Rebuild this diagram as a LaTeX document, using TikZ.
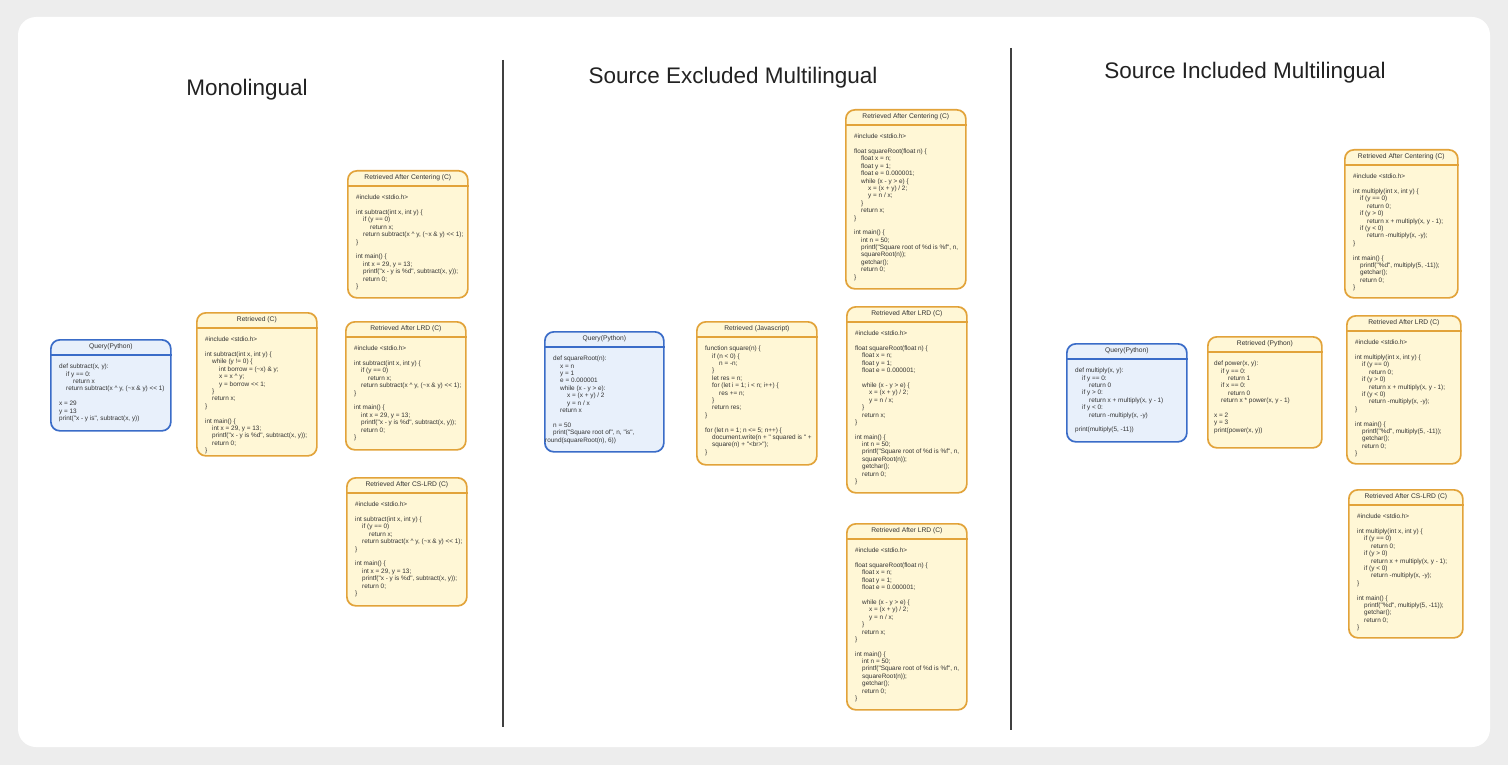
\documentclass[tikz,border=0pt]{standalone}
\usepackage{fontspec}
\setmainfont{Liberation Sans}
\newfontfamily\codefont{Liberation Sans}[Ligatures=TeXOff]
\usepackage{tikz}
\usetikzlibrary{positioning,calc}

\definecolor{bggray}{HTML}{EDEDED}
\definecolor{qdraw}{HTML}{3A6CC8}
\definecolor{qfill}{HTML}{E8F0FB}
\definecolor{rdraw}{HTML}{E2A33A}
\definecolor{rfill}{HTML}{FFF7D6}
\definecolor{codetext}{HTML}{333333}
\definecolor{titletext}{HTML}{222222}

\newcommand{\codeind}{\hspace*{7pt}}

% C code shared by several boxes
\newcommand{\subC}{%
\#include <stdio.h>\\
~\\
int subtract(int x, int y) \{\\
\codeind if (y == 0)\\
\codeind\codeind return x;\\
\codeind return subtract(x \textasciicircum\ y, (\textasciitilde x \& y) << 1);\\
\}\\
~\\
int main() \{\\
\codeind int x = 29, y = 13;\\
\codeind printf("x - y is \%d", subtract(x, y));\\
\codeind return 0;\\
\}}

\newcommand{\sqrtC}{%
\#include <stdio.h>\\
~\\
float squareRoot(float n) \{\\
\codeind float x = n;\\
\codeind float y = 1;\\
\codeind float e = 0.000001;\\
\codeind while (x - y > e) \{\\
\codeind\codeind x = (x + y) / 2;\\
\codeind\codeind y = n / x;\\
\codeind \}\\
\codeind return x;\\
\}\\
~\\
int main() \{\\
\codeind int n = 50;\\
\codeind printf("Square root of \%d is \%f", n,\\
\codeind squareRoot(n));\\
\codeind getchar();\\
\codeind return 0;\\
\}}

\newcommand{\sqrtLRD}{%
\#include <stdio.h>\\
~\\
float squareRoot(float n) \{\\
\codeind float x = n;\\
\codeind float y = 1;\\
\codeind float e = 0.000001;\\
~\\
\codeind while (x - y > e) \{\\
\codeind\codeind x = (x + y) / 2;\\
\codeind\codeind y = n / x;\\
\codeind \}\\
\codeind return x;\\
\}\\
~\\
int main() \{\\
\codeind int n = 50;\\
\codeind printf("Square root of \%d is \%f", n,\\
\codeind squareRoot(n));\\
\codeind getchar();\\
\codeind return 0;\\
\}}

\newcommand{\mulC}{%
\#include <stdio.h>\\
~\\
int multiply(int x, int y) \{\\
\codeind if (y == 0)\\
\codeind\codeind return 0;\\
\codeind if (y > 0)\\
\codeind\codeind return x + multiply(x, y - 1);\\
\codeind if (y < 0)\\
\codeind\codeind return -multiply(x, -y);\\
\}\\
~\\
int main() \{\\
\codeind printf("\%d", multiply(5, -11));\\
\codeind getchar();\\
\codeind return 0;\\
\}}

\tikzset{
  qbox/.style={draw=qdraw,fill=qfill,line width=1.7pt,rounded corners=9pt,anchor=north west,inner sep=0pt},
  rbox/.style={draw=rdraw,fill=rfill,line width=1.7pt,rounded corners=9pt,anchor=north west,inner sep=0pt},
  qsep/.style={draw=qdraw,line width=1.4pt},
  rsep/.style={draw=rdraw,line width=1.4pt},
  hdr/.style={font=\codefont\fontsize{6.7}{7.4}\selectfont,text=codetext,inner sep=0pt},
  code/.style={anchor=north west,inner sep=0pt,align=left,font=\codefont\fontsize{6.4}{7.38}\selectfont,text=codetext},
  title/.style={font=\fontsize{22.5}{26}\selectfont,text=titletext},
  divider/.style={draw=black!75,line width=1.4pt}
}

\begin{document}
\begin{tikzpicture}[x=1pt,y=-1pt]
\useasboundingbox (0,0) rectangle (1508,765);
\fill[bggray] (0,0) rectangle (1508,765);
\fill[white,rounded corners=18pt] (18,17) rectangle (1490,747);

% headings and dividers
\node[title] (mono title) at (247,90) {Monolingual};
\node[title] (excl title) at (733,78) {Source Excluded Multilingual};
\node[title] (incl title) at (1245,73) {Source Included Multilingual};
\draw[divider] (503,60) -- (503,727);
\draw[divider] (1011,48) -- (1011,730);

% Monolingual
\node[qbox,minimum width=120,minimum height=91] (mq) at (50,339) {};
\node[hdr] (mq t) at ([yshift=-8]mq.north) {Query(Python)};
\draw[qsep] ([yshift=-16]mq.north west) -- ([yshift=-16]mq.north east);
\node[code] (mq c) at ([xshift=9,yshift=-25]mq.north west) {def subtract(x, y):\\
\codeind if y == 0:\\
\codeind\codeind return x\\
\codeind return subtract(x \textasciicircum\ y, (\textasciitilde x \& y) << 1)\\
~\\
x = 29\\
y = 13\\
print("x - y is", subtract(x, y))};

\node[rbox,minimum width=120,minimum height=143] (mr) at (196,312) {};
\node[hdr] (mr t) at ([yshift=-8]mr.north) {Retrieved (C)};
\draw[rsep] ([yshift=-16]mr.north west) -- ([yshift=-16]mr.north east);
\node[code] (mr c) at ([xshift=9,yshift=-25]mr.north west) {\#include <stdio.h>\\
~\\
int subtract(int x, int y) \{\\
\codeind while (y != 0) \{\\
\codeind\codeind int borrow = (\textasciitilde x) \& y;\\
\codeind\codeind x = x \textasciicircum\ y;\\
\codeind\codeind y = borrow << 1;\\
\codeind \}\\
\codeind return x;\\
\}\\
~\\
int main() \{\\
\codeind int x = 29, y = 13;\\
\codeind printf("x - y is \%d", subtract(x, y));\\
\codeind return 0;\\
\}};

\node[rbox,minimum width=120,minimum height=127] (mc) at (347,170) {};
\node[hdr] (mc t) at ([yshift=-8]mc.north) {Retrieved After Centering (C)};
\draw[rsep] ([yshift=-16]mc.north west) -- ([yshift=-16]mc.north east);
\node[code] (mc c) at ([xshift=9,yshift=-25]mc.north west) {\subC};

\node[rbox,minimum width=120,minimum height=128] (ml) at (345,321) {};
\node[hdr] (ml t) at ([yshift=-8]ml.north) {Retrieved After LRD (C)};
\draw[rsep] ([yshift=-16]ml.north west) -- ([yshift=-16]ml.north east);
\node[code] (ml c) at ([xshift=9,yshift=-25]ml.north west) {\subC};

\node[rbox,minimum width=120,minimum height=128] (ms) at (346,477) {};
\node[hdr] (ms t) at ([yshift=-8]ms.north) {Retrieved After CS-LRD (C)};
\draw[rsep] ([yshift=-16]ms.north west) -- ([yshift=-16]ms.north east);
\node[code] (ms c) at ([xshift=9,yshift=-25]ms.north west) {\subC};

% Source Excluded Multilingual
\node[qbox,minimum width=119,minimum height=120] (eq) at (544,331) {};
\node[hdr] (eq t) at ([yshift=-8]eq.north) {Query(Python)};
\draw[qsep] ([yshift=-16]eq.north west) -- ([yshift=-16]eq.north east);
\node[code] (eq c) at ([xshift=9,yshift=-25]eq.north west) {def squareRoot(n):\\
\codeind x = n\\
\codeind y = 1\\
\codeind e = 0.000001\\
\codeind while (x - y > e):\\
\codeind\codeind x = (x + y) / 2\\
\codeind\codeind y = n / x\\
\codeind return x\\
~\\
n = 50\\
print("Square root of", n, "is",\\
\hspace*{-8pt}round(squareRoot(n), 6))};

\node[rbox,minimum width=120,minimum height=143] (er) at (696,321) {};
\node[hdr] (er t) at ([yshift=-8]er.north) {Retrieved (Javascript)};
\draw[rsep] ([yshift=-16]er.north west) -- ([yshift=-16]er.north east);
\node[code] (er c) at ([xshift=9,yshift=-25]er.north west) {function square(n) \{\\
\codeind if (n < 0) \{\\
\codeind\codeind n = -n;\\
\codeind \}\\
\codeind let res = n;\\
\codeind for (let i = 1; i < n; i++) \{\\
\codeind\codeind res += n;\\
\codeind \}\\
\codeind return res;\\
\}\\
~\\
for (let n = 1; n <= 5; n++) \{\\
\codeind document.write(n + " squared is " +\\
\codeind square(n) + "<br>");\\
\}};

\node[rbox,minimum width=120,minimum height=179] (ec) at (845,109) {};
\node[hdr] (ec t) at ([yshift=-8]ec.north) {Retrieved After Centering (C)};
\draw[rsep] ([yshift=-16]ec.north west) -- ([yshift=-16]ec.north east);
\node[code] (ec c) at ([xshift=9,yshift=-25]ec.north west) {\sqrtC};

\node[rbox,minimum width=120,minimum height=186] (el) at (846,306) {};
\node[hdr] (el t) at ([yshift=-8]el.north) {Retrieved After LRD (C)};
\draw[rsep] ([yshift=-16]el.north west) -- ([yshift=-16]el.north east);
\node[code] (el c) at ([xshift=9,yshift=-25]el.north west) {\sqrtLRD};

\node[rbox,minimum width=120,minimum height=186] (e3) at (846,523) {};
\node[hdr] (e3 t) at ([yshift=-8]e3.north) {Retrieved After LRD (C)};
\draw[rsep] ([yshift=-16]e3.north west) -- ([yshift=-16]e3.north east);
\node[code] (e3 c) at ([xshift=9,yshift=-25]e3.north west) {\sqrtLRD};

% Source Included Multilingual
\node[qbox,minimum width=120,minimum height=98] (iq) at (1066,343) {};
\node[hdr] (iq t) at ([yshift=-8]iq.north) {Query(Python)};
\draw[qsep] ([yshift=-16]iq.north west) -- ([yshift=-16]iq.north east);
\node[code] (iq c) at ([xshift=9,yshift=-25]iq.north west) {def multiply(x, y):\\
\codeind if y == 0:\\
\codeind\codeind return 0\\
\codeind if y > 0:\\
\codeind\codeind return x + multiply(x, y - 1)\\
\codeind if y < 0:\\
\codeind\codeind return -multiply(x, -y)\\
~\\
print(multiply(5, -11))};

\node[rbox,minimum width=114,minimum height=111] (ir) at (1207,336) {};
\node[hdr] (ir t) at ([yshift=-8]ir.north) {Retrieved (Python)};
\draw[rsep] ([yshift=-16]ir.north west) -- ([yshift=-16]ir.north east);
\node[code] (ir c) at ([xshift=7,yshift=-25]ir.north west) {def power(x, y):\\
\codeind if y == 0:\\
\codeind\codeind return 1\\
\codeind if x == 0:\\
\codeind\codeind return 0\\
\codeind return x * power(x, y - 1)\\
~\\
x = 2\\
y = 3\\
print(power(x, y))};

\node[rbox,minimum width=113,minimum height=148] (ic) at (1344,149) {};
\node[hdr] (ic t) at ([yshift=-8]ic.north) {Retrieved After Centering (C)};
\draw[rsep] ([yshift=-16]ic.north west) -- ([yshift=-16]ic.north east);
\node[code] (ic c) at ([xshift=9,yshift=-25]ic.north west) {\mulC};

\node[rbox,minimum width=114,minimum height=148] (il) at (1346,315) {};
\node[hdr] (il t) at ([yshift=-8]il.north) {Retrieved After LRD (C)};
\draw[rsep] ([yshift=-16]il.north west) -- ([yshift=-16]il.north east);
\node[code] (il c) at ([xshift=9,yshift=-25]il.north west) {\mulC};

\node[rbox,minimum width=114,minimum height=148] (is) at (1348,489) {};
\node[hdr] (is t) at ([yshift=-8]is.north) {Retrieved After CS-LRD (C)};
\draw[rsep] ([yshift=-16]is.north west) -- ([yshift=-16]is.north east);
\node[code] (is c) at ([xshift=9,yshift=-25]is.north west) {\mulC};
\end{tikzpicture}
\end{document}
